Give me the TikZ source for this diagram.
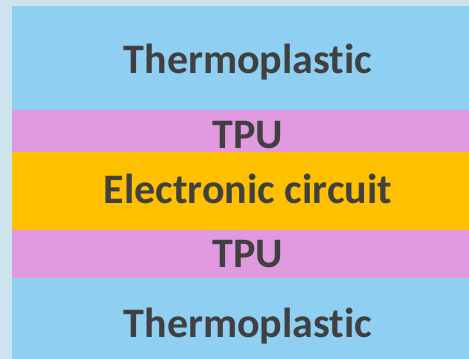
\documentclass[tikz,border=0pt]{standalone}
\usepackage{fontspec}
\setmainfont[Ligatures={NoCommon}]{Carlito}
\definecolor{bgc}{HTML}{CDE4EE}
\definecolor{thermo}{HTML}{8FD0F2}
\definecolor{tpu}{HTML}{E19ADF}
\definecolor{circ}{HTML}{FFC000}
\definecolor{txt}{HTML}{404040}
\begin{document}
\begin{tikzpicture}[x=1pt,y=-1pt,
  layertext/.style={anchor=base,inner sep=0pt,text=txt,font=\fontsize{42}{48}\selectfont\bfseries}]
\useasboundingbox (0,0) rectangle (469,359);
\fill[bgc] (0,0) rectangle (469,359);
\fill[thermo] (12,6) rectangle (469,110);
\fill[tpu] (12,110) rectangle (469,152);
\fill[circ] (12,152) rectangle (469,230);
\fill[tpu] (12,230) rectangle (469,278);
\fill[thermo] (12,278) rectangle (469,359);
\node[layertext] (t1) at (248,73) {Thermoplastic};
\node[layertext] (p1) at (248,148) {TPU};
\node[layertext] (ec) at (248,203.5) {Electronic circuit};
\node[layertext] (p2) at (248,267) {TPU};
\node[layertext] (t2) at (248,337) {Thermoplastic};
\end{tikzpicture}
\end{document}
